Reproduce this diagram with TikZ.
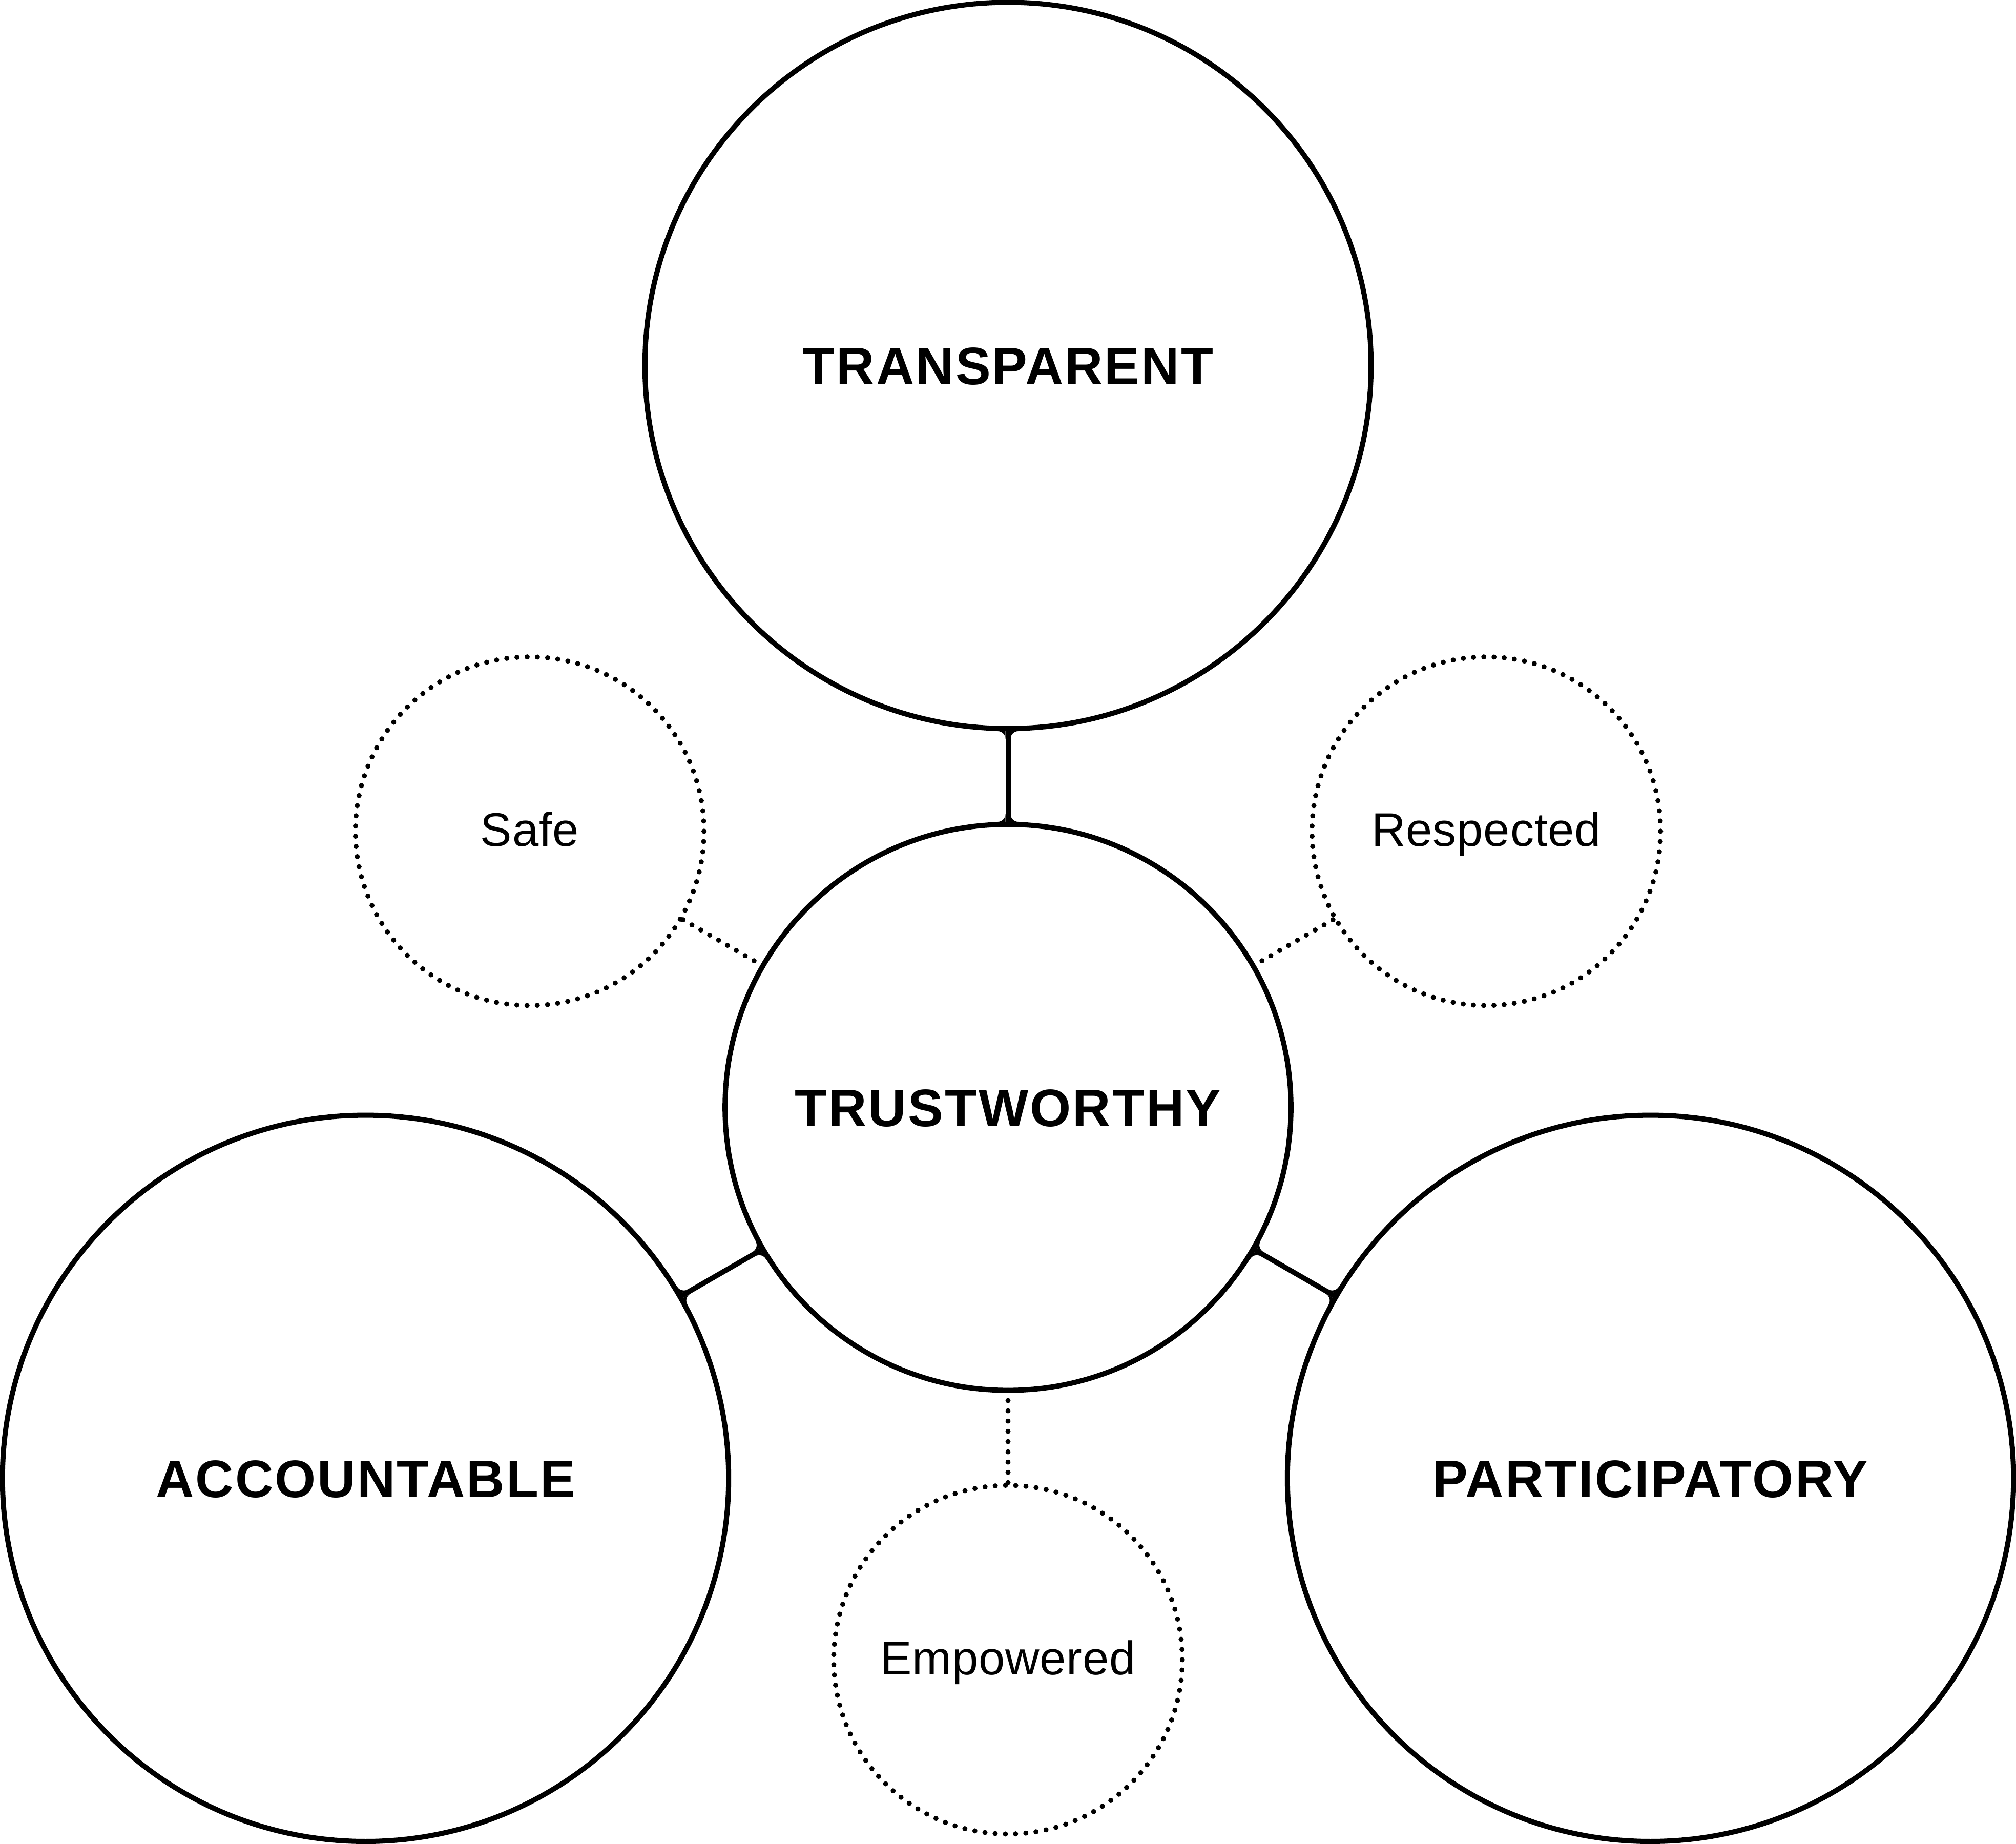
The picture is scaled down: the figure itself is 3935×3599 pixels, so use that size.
\documentclass[tikz,border=0pt]{standalone}
\usepackage{fontspec}
\setmainfont{Liberation Sans}
\newfontfamily\headfont[LetterSpace=3.0]{Liberation Sans}
\newfontfamily\notefont[LetterSpace=1.0]{Liberation Sans}
\usetikzlibrary{calc}

% small concave fillets where a solid link meets a ring
% #1 = junction point on the ring, #2 = direction of the link leaving the ring
\newcommand\linkjoint[2]{%
  \begin{scope}[shift={(#1)}, rotate=#2-90]
    \fill (5,0) -- (5,20) arc[start angle=180, end angle=270, radius=0.15cm] -- (20,0) -- cycle;
    \fill (-5,0) -- (-5,20) arc[start angle=0, end angle=-90, radius=0.15cm] -- (-20,0) -- cycle;
  \end{scope}}

\begin{document}
\begin{tikzpicture}[x=0.01cm, y=0.01cm,
  ring/.style={circle, draw, line width=0.1cm, inner sep=0pt, outer sep=0pt},
  bigring/.style={ring, minimum size=14.166cm,
    font=\headfont\bfseries\fontsize{29.3}{35}\selectfont,
    text height=0.75cm, text depth=0pt},
  corering/.style={bigring, minimum size=11.04cm},
  dotring/.style={circle, draw, line width=0.1cm, line cap=round,
    dash pattern=on 0pt off 0.19966cm, inner sep=0pt, outer sep=0pt,
    minimum size=6.8cm, font=\notefont\fontsize{26.2}{31}\selectfont,
    text height=0.58cm, text depth=0pt},
  link/.style={line width=0.1cm},
  dotlink/.style={line width=0.1cm, line cap=round, dash pattern=on 0pt off 0.2cm},
]
\useasboundingbox (0,0) rectangle (3935,3599);

\coordinate (o) at (1967.5,1437.7);

% core and the three pillars
\node[corering] (trust) at (o) {TRUSTWORTHY};
\node[bigring] (transp) at ($(o)+(90:1448)$) {TRANSPARENT};
\node[bigring] (account) at ($(o)+(210:1448)$) {ACCOUNTABLE};
\node[bigring] (partic) at ($(o)+(330:1448)$) {PARTICIPATORY};

% the three outcomes
\node[dotring] (safe) at ($(o)+(150:1078)$) {Safe};
\node[dotring] (resp) at ($(o)+(30:1078)$) {Respected};
\node[dotring] (empow) at ($(o)+(270:1078)$) {Empowered};

% solid links
\draw[link] (transp.270) -- (trust.90);
\draw[link] (account.30) -- (trust.210);
\draw[link] (partic.150) -- (trust.330);

\linkjoint{transp.270}{270}
\linkjoint{trust.90}{90}
\linkjoint{account.30}{30}
\linkjoint{trust.210}{210}
\linkjoint{partic.150}{150}
\linkjoint{trust.330}{330}

% dotted links
\draw[dotlink] (trust.150) -- (safe.330);
\draw[dotlink] (trust.30) -- (resp.210);
\draw[dotlink] (trust.270) -- (empow.90);
\end{tikzpicture}
\end{document}
